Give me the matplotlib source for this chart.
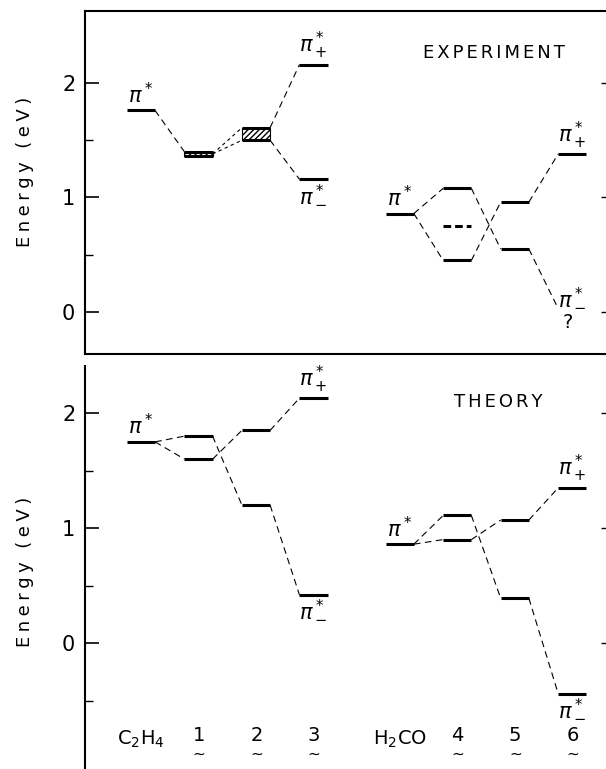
import matplotlib.pyplot as plt
from matplotlib.patches import Rectangle

plt.rcParams['font.family'] = ['DejaVu Sans']
plt.rcParams['mathtext.fontset'] = 'dejavusans'
plt.rcParams['hatch.linewidth'] = 1.0

# column labels
labels = ['C$_2$H$_4$', '1', '2', '3', 'H$_2$CO', '4', '5', '6']
is_compound = [False, True, True, True, False, True, True, True]

# experiment, energies in eV
exp_c2h4 = [1.76]
exp_1_band = [1.36, 1.40]
exp_2_band = [1.50, 1.61]
exp_3 = [2.16, 1.16]
exp_h2co = [0.86]
exp_4 = [1.08, 0.45]
exp_4_mid = [0.75]
exp_5 = [0.96, 0.55]
exp_6 = [1.38, 0.03]  # pi- only estimated, no level drawn

# theory, energies in eV
th_c2h4 = [1.75]
th_1 = [1.80, 1.60]
th_2 = [1.85, 1.20]
th_3 = [2.13, 0.42]
th_h2co = [0.86]
th_4 = [1.11, 0.90]
th_5 = [1.07, 0.39]
th_6 = [1.35, -0.44]

# layout
xpos = [0, 1, 2, 3, 4.5, 5.5, 6.5, 7.5]
hw = 0.245
dash = (0, (6, 4))
PI = r'$\pi^*$'
PIP = r'$\pi_+^*$'
PIM = r'$\pi_-^*$'
SP = '\u2005'   # letter spacing
SP2 = '\u2006'


def spaced(s, sp):
    return sp.join(s)


def level(ax, i, e, ls='-'):
    x = xpos[i]
    ax.plot([x - hw, x + hw], [e, e], color='k', lw=2.2, ls=ls, solid_capstyle='butt')


def band(ax, i, lo, hi):
    x = xpos[i]
    ax.add_patch(Rectangle((x - hw, lo), 2 * hw, hi - lo, fill=False, hatch='//////',
                           edgecolor='k', lw=0.8))
    level(ax, i, lo)
    level(ax, i, hi)


def link(ax, i0, e0, i1, e1, ls=dash):
    ax.plot([xpos[i0] + hw, xpos[i1] - hw], [e0, e1], color='k', lw=0.8, ls=ls)


def label(ax, i, e, s, above=True):
    if above:
        ax.text(xpos[i], e + 0.03, s, ha='center', va='bottom', fontsize=15)
    else:
        ax.text(xpos[i], e - 0.03, s, ha='center', va='top', fontsize=15)


fig = plt.figure(figsize=(6.06, 7.69), dpi=100)
ax1 = fig.add_axes([85 / 606, 1 - 354 / 769, 522 / 606, 343 / 769])
ax2 = fig.add_axes([85 / 606, -0.002, 522 / 606, 403 / 769 + 0.002])

for ax in (ax1, ax2):
    ax.set_xlim(-0.974, 8.104)
    ax.set_xticks([])
    ax.spines['right'].set_visible(False)
    ax.tick_params(axis='y', which='major', direction='in', length=10, width=1.2,
                   labelsize=15, pad=7)
    ax.tick_params(axis='y', which='minor', direction='in', length=6, width=1)
    ax.set_yticks([0, 1, 2])
    ax.set_yticklabels(['0', '1', '2'])
    for s in ax.spines.values():
        s.set_linewidth(1.5)

ax1.set_ylim(-0.367, 2.629)
ax1.set_yticks([0.5, 1.5], minor=True)
ax2.set_ylim(-1.109, 2.41)
ax2.set_yticks([-0.5, 0.5, 1.5], minor=True)
ax2.spines['top'].set_visible(False)
ax2.spines['bottom'].set_visible(False)

# short ticks on the right edge
for ax in (ax1, ax2):
    tw = ax.twinx()
    tw.set_ylim(ax.get_ylim())
    tw.set_yticks([0, 1, 2])
    tw.set_yticklabels([])
    tw.tick_params(axis='y', direction='in', length=4, width=1)
    for s in tw.spines.values():
        s.set_visible(False)

# --- experiment ---
level(ax1, 0, exp_c2h4[0])
band(ax1, 1, *exp_1_band)
band(ax1, 2, *exp_2_band)
level(ax1, 3, exp_3[0])
level(ax1, 3, exp_3[1])
level(ax1, 4, exp_h2co[0])
level(ax1, 5, exp_4[0])
level(ax1, 5, exp_4[1])
level(ax1, 5, exp_4_mid[0], ls=(0, (2.5, 1.3)))
level(ax1, 6, exp_5[0])
level(ax1, 6, exp_5[1])
level(ax1, 7, exp_6[0])

mid1 = sum(exp_1_band) / 2
link(ax1, 0, exp_c2h4[0], 1, exp_1_band[1])
link(ax1, 1, mid1, 2, exp_2_band[1], ls=(0, (3, 3)))
link(ax1, 1, mid1, 2, exp_2_band[0], ls=(0, (3, 3)))
link(ax1, 2, exp_2_band[1], 3, exp_3[0])
link(ax1, 2, exp_2_band[0], 3, exp_3[1])
link(ax1, 4, exp_h2co[0], 5, exp_4[0])
link(ax1, 4, exp_h2co[0], 5, exp_4[1])
link(ax1, 5, exp_4[0], 6, exp_5[1])
link(ax1, 5, exp_4[1], 6, exp_5[0])
link(ax1, 6, exp_5[0], 7, exp_6[0])
link(ax1, 6, exp_5[1], 7, exp_6[1])

label(ax1, 0, exp_c2h4[0], PI)
label(ax1, 3, exp_3[0], PIP)
label(ax1, 3, exp_3[1], PIM, above=False)
label(ax1, 4, exp_h2co[0], PI)
label(ax1, 7, exp_6[0], PIP)
ax1.text(xpos[7], exp_6[1], PIM, ha='center', va='bottom', fontsize=15)
ax1.text(xpos[7] - 0.07, exp_6[1] - 0.04, '?', ha='center', va='top', fontsize=14)
ax1.text(6.14, 2.26, spaced('EXPERIMENT', SP2), ha='center', va='center', fontsize=13)

# --- theory ---
level(ax2, 0, th_c2h4[0])
for i, lv in zip([1, 2, 3], [th_1, th_2, th_3]):
    level(ax2, i, lv[0])
    level(ax2, i, lv[1])
level(ax2, 4, th_h2co[0])
for i, lv in zip([5, 6, 7], [th_4, th_5, th_6]):
    level(ax2, i, lv[0])
    level(ax2, i, lv[1])

link(ax2, 0, th_c2h4[0], 1, th_1[0])
link(ax2, 0, th_c2h4[0], 1, th_1[1])
link(ax2, 1, th_1[0], 2, th_2[1])
link(ax2, 1, th_1[1], 2, th_2[0])
link(ax2, 2, th_2[0], 3, th_3[0])
link(ax2, 2, th_2[1], 3, th_3[1])
link(ax2, 4, th_h2co[0], 5, th_4[0])
link(ax2, 4, th_h2co[0], 5, th_4[1])
link(ax2, 5, th_4[0], 6, th_5[1])
link(ax2, 5, th_4[1], 6, th_5[0])
link(ax2, 6, th_5[0], 7, th_6[0])
link(ax2, 6, th_5[1], 7, th_6[1])

label(ax2, 0, th_c2h4[0], PI)
label(ax2, 3, th_3[0], PIP)
label(ax2, 3, th_3[1], PIM, above=False)
label(ax2, 4, th_h2co[0], PI)
label(ax2, 7, th_6[0], PIP)
label(ax2, 7, th_6[1], PIM, above=False)
ax2.text(6.21, 2.10, spaced('THEORY', SP2), ha='center', va='center', fontsize=13)

# column names under the theory panel, compound numbers with a tilde below
for i, (lab, comp) in enumerate(zip(labels, is_compound)):
    if comp:
        ax2.text(xpos[i], -0.80, r'$\mathregular{%s}$' % lab, ha='center', va='center', fontsize=14)
        ax2.text(xpos[i], -0.955, r'$\sim$', ha='center', va='center', fontsize=11)
    else:
        ax2.text(xpos[i], -0.84, lab, ha='center', va='center', fontsize=14)

ylab = spaced('Energy', SP) + SP * 3 + spaced('(eV)', SP)
fig.text(25 / 606, 1 - 172 / 769, ylab, rotation=90, ha='center', va='center', fontsize=13)
fig.text(25 / 606, 1 - 572 / 769, ylab, rotation=90, ha='center', va='center', fontsize=13)

fig.savefig('out.png', dpi=100)
